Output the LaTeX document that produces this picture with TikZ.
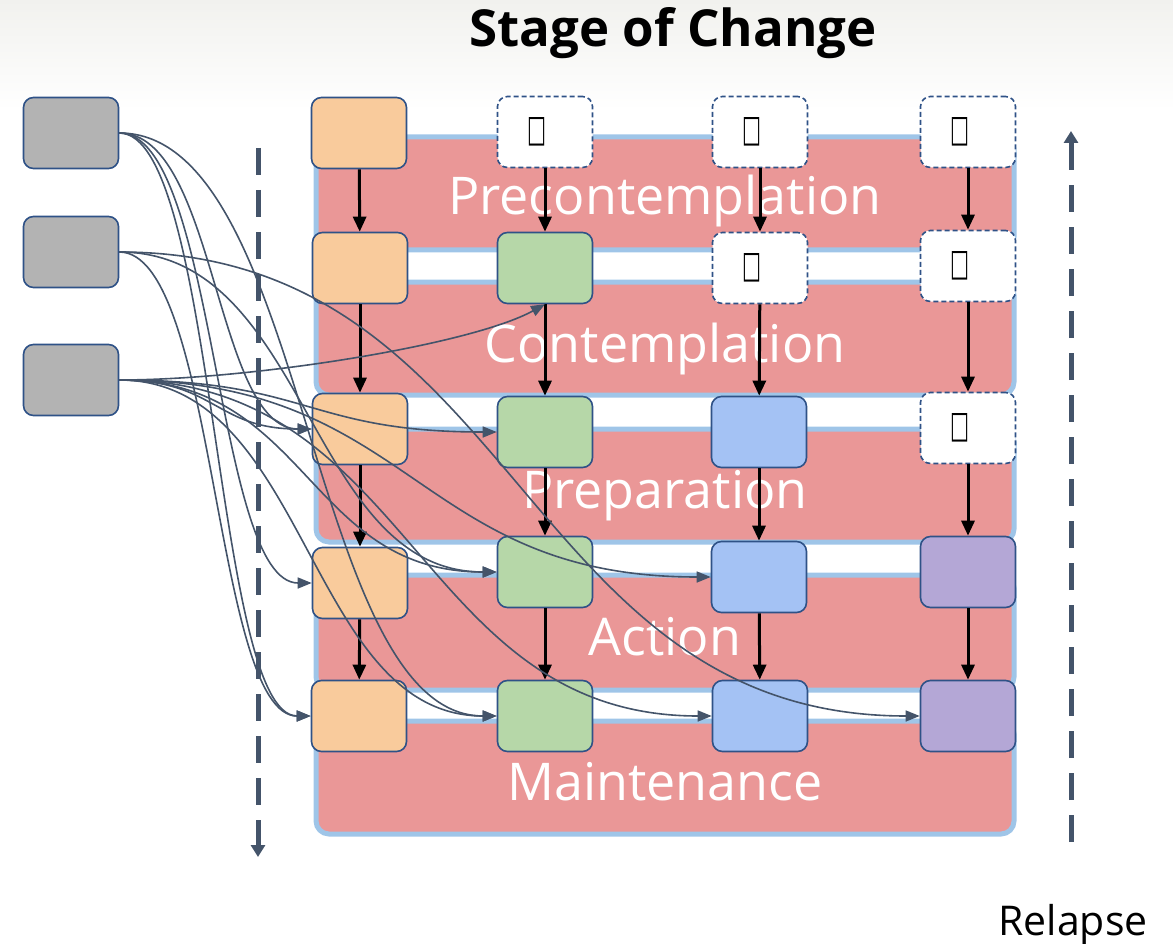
\documentclass[tikz,border=0pt]{standalone}
\usepackage{fontspec}
\usepackage{graphicx}
\setmainfont{Open Sans}
\newfontfamily\symfont{DejaVu Sans}
\usetikzlibrary{arrows.meta}
\definecolor{bandfill}{HTML}{EA9797}
\definecolor{bandborder}{HTML}{9FC5E8}
\definecolor{boxborder}{HTML}{2F5287}
\definecolor{grayfill}{HTML}{B3B3B3}
\definecolor{orangefill}{HTML}{F9CB9C}
\definecolor{greenfill}{HTML}{B6D7A8}
\definecolor{bluefill}{HTML}{A4C2F4}
\definecolor{purplefill}{HTML}{B4A7D6}
\definecolor{slate}{HTML}{44546A}
\definecolor{paper}{HTML}{F1F1EE}
\newcommand\tofu{\resizebox{19pt}{24pt}{\symfont □}\kern16pt}
\begin{document}
\begin{tikzpicture}[x=1pt,y=-1pt,
  band/.style={fill=bandfill, draw=bandborder, line width=5pt, rounded corners=13pt},
  bandlabel/.style={text=white, font=\fontsize{52}{56}\selectfont, anchor=base},
  box/.style={draw=boxborder, line width=1.6pt, rounded corners=10pt, minimum width=95pt, minimum height=71pt, inner sep=0pt},
  ghost/.style={box, fill=white, dash pattern=on 5pt off 3pt},
  blk/.style={line width=3pt, -{Triangle[length=15pt,width=13pt]}},
  link/.style={draw=slate, line width=1.6pt, -{Triangle[length=14pt,width=11pt]}},
  bigdash/.style={draw=slate, line width=5pt, dash pattern=on 27pt off 15pt},
]
\useasboundingbox (0,0) rectangle (1173,944);
\shade[top color=paper, bottom color=white] (0,0) rectangle (1173,110);

% title
\node[anchor=base, font=\bfseries\fontsize{51}{56}\selectfont] (title) at (673,47) {Stage of Change};

% bands
\draw[band] (316,137) rectangle (1014,250);
\draw[band] (316,282) rectangle (1014,395);
\draw[band] (316,429) rectangle (1014,542);
\draw[band] (316,575) rectangle (1014,690);
\draw[band] (316,721) rectangle (1014,834);

\node[bandlabel] (lp) at (665,215) {Precontemplation};
\node[bandlabel] (lc) at (665,362) {Contemplation};
\node[bandlabel] (lr) at (665,508) {Preparation};
\node[bandlabel] (la) at (665,655) {Action};
\node[bandlabel] (lm) at (665,800) {Maintenance};

% big dashed lines
\coordinate (ltop) at (258,148);
\coordinate (lbot) at (258,857);
\coordinate (rbot) at (1071,842);
\coordinate (rtop) at (1071,131);
\draw[bigdash, -{Triangle[length=12pt,width=14pt]}] (ltop) -- (lbot);
\draw[bigdash, -{Triangle[length=12pt,width=14pt]}] (rbot) -- (rtop);
\node[anchor=base, font=\fontsize{41}{44}\selectfont] (relapse) at (1073,935) {Relapse};

% boxes
\node[box, fill=grayfill] (g1) at (71,133) {};
\node[box, fill=grayfill] (g2) at (71,252) {};
\node[box, fill=grayfill] (g3) at (71,380) {};

\node[box, fill=orangefill] (o1) at (359,133) {};
\node[box, fill=orangefill] (o2) at (360,268) {};
\node[box, fill=orangefill] (o3) at (360,429) {};
\node[box, fill=orangefill] (o4) at (360,583) {};
\node[box, fill=orangefill] (o5) at (359,716) {};

\node[ghost] (d21) at (545,132) {\tofu};
\node[box, fill=greenfill] (g22) at (545,268) {};
\node[box, fill=greenfill] (g23) at (545,432) {};
\node[box, fill=greenfill] (g24) at (545,572) {};
\node[box, fill=greenfill] (g25) at (545,716) {};

\node[ghost] (d31) at (760,132) {\tofu};
\node[ghost] (d32) at (760,268) {\tofu};
\node[box, fill=bluefill] (b33) at (759,432) {};
\node[box, fill=bluefill] (b34) at (759,577) {};
\node[box, fill=bluefill] (b35) at (760,716) {};

\node[ghost] (d41) at (968,132) {\tofu};
\node[ghost] (d42) at (968,266) {\tofu};
\node[ghost] (d43) at (968,428) {\tofu};
\node[box, fill=purplefill] (p44) at (968,572) {};
\node[box, fill=purplefill] (p45) at (968,716) {};

% black arrows
\draw[blk] (o1) -- (o2);
\draw[blk] (o2) -- (o3);
\draw[blk] (o3) -- (o4);
\draw[blk] (o4) -- (o5);
\draw[blk] (d21) -- (g22);
\draw[blk] (g22) -- (g23);
\draw[blk] (g23) -- (g24);
\draw[blk] (g24) -- (g25);
\draw[blk] (d31) -- (d32);
\draw[blk] (d32) -- (b33);
\draw[blk] (b33) -- (b34);
\draw[blk] (b34) -- (b35);
\draw[blk] (d41) -- (d42);
\draw[blk] (d42) -- (d43);
\draw[blk] (d43) -- (p44);
\draw[blk] (p44) -- (p45);

% curved links
\draw[link] (g1.east) .. controls +(97,0) and +(-97,0) .. (o3.west);
\draw[link] (g1.east) .. controls +(97,0) and +(-97,0) .. (o4.west);
\draw[link] (g1.east) .. controls +(97,0) and +(-97,0) .. (o5.west);
\draw[link] (g1.east) .. controls +(190,0) and +(-190,0) .. (g25.west);

\draw[link] (g2.east) .. controls +(401,0) and +(-401,0) .. (p45.west);
\draw[link] (g2.east) .. controls +(97,0) and +(-97,0) .. (o5.west);
\draw[link] (g2.east) .. controls +(190,0) and +(-190,0) .. (g24.west);

\draw[link] (g3.east) .. controls +(131,0) and +(-75,41) .. (g22.south);
\draw[link] (g3.east) .. controls +(97,0) and +(-97,0) .. (o3.west);
\draw[link] (g3.east) .. controls +(190,0) and +(-190,0) .. (g23.west);
\draw[link] (g3.east) .. controls +(190,0) and +(-190,0) .. (g24.west);
\draw[link] (g3.east) .. controls +(296,0) and +(-296,0) .. (b34.west);
\draw[link] (g3.east) .. controls +(190,0) and +(-190,0) .. (g25.west);
\draw[link] (g3.east) .. controls +(296,0) and +(-296,0) .. (b35.west);
\end{tikzpicture}
\end{document}
